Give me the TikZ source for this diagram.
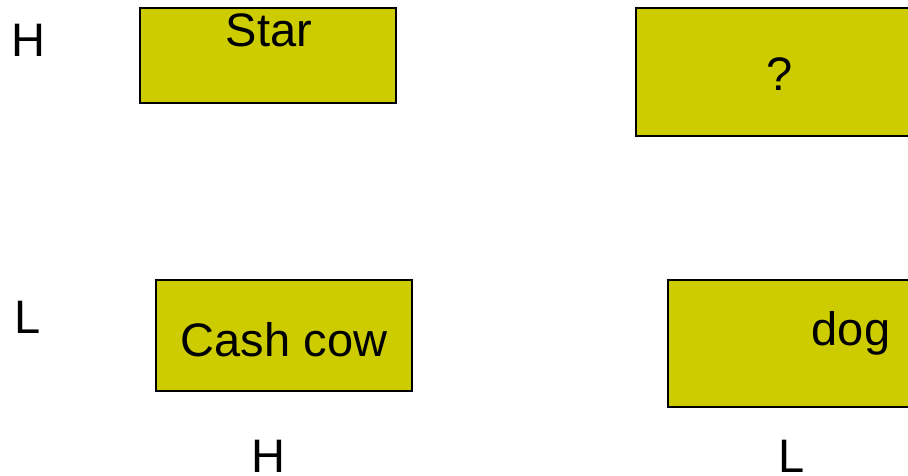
\documentclass[tikz,border=0pt]{standalone}
\usepackage{fontspec}
\setmainfont{Liberation Sans}
\definecolor{olivebox}{HTML}{CDCC00}
\begin{document}
\begin{tikzpicture}[x=1pt,y=-1pt,
  box/.style={draw=black,line width=2pt,fill=olivebox},
  lbl/.style={anchor=base,inner sep=0pt,font=\fontsize{47}{56}\selectfont}]
\useasboundingbox (0,0) rectangle (908,476);
\begin{scope}
\clip (0,0) rectangle (908,476);
\path[box] (140,8) rectangle (396,103);
\path[box] (636,8) rectangle (920,136);
\path[box] (156,280) rectangle (412,391);
\path[box] (668,280) rectangle (920,407);
\end{scope}
\node[lbl] (hl) at (28,57) {H};
\node[lbl] (ll) at (28,333) {L};
\node[lbl] (hb) at (268,472) {H};
\node[lbl] (lb) at (792,472) {L};
\node[lbl] (star) at (269,47) {Star};
\node[lbl] (q) at (780,91) {?};
\node[lbl] (cash) at (284,356) {Cash cow};
\node[lbl] (dog) at (851,345) {dog};
\end{tikzpicture}
\end{document}
